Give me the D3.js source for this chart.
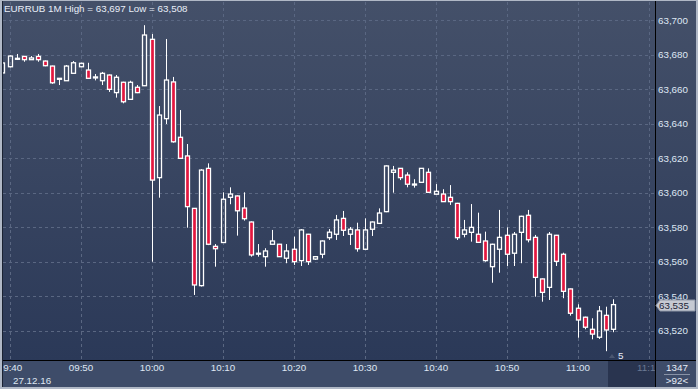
<!DOCTYPE html>
<html>
<head>
<meta charset="utf-8">
<script src="https://cdn.jsdelivr.net/npm/d3@7"></script>
<style>
  html, body { margin: 0; padding: 0; background: #b0b8c6; }
  svg { display: block; }
  text { font-family: "Liberation Sans", Arial, sans-serif; }
</style>
</head>
<body>
<svg id="chart"></svg>
<script>
// EURRUB 1 minute candles, 27.12.16
const times = ['09:39','09:40','09:41','09:42','09:43','09:44','09:45','09:46','09:47','09:48','09:49',
  '09:50','09:51','09:52','09:53','09:54','09:55','09:56','09:57','09:58','09:59',
  '10:00','10:01','10:02','10:03','10:04','10:05','10:06','10:07','10:08','10:09',
  '10:10','10:11','10:12','10:13','10:14','10:15','10:16','10:17','10:18','10:19',
  '10:20','10:21','10:22','10:23','10:24','10:25','10:26','10:27','10:28','10:29',
  '10:30','10:31','10:32','10:33','10:34','10:35','10:36','10:37','10:38','10:39',
  '10:40','10:41','10:42','10:43','10:44','10:45','10:46','10:47','10:48','10:49',
  '10:50','10:51','10:52','10:53','10:54','10:55','10:56','10:57','10:58','10:59',
  '11:00','11:01','11:02','11:03','11:04','11:05'];
const opens = [63.6693,63.6729,63.6776,63.6789,63.6770,63.6789,63.6762,63.6733,63.6660,63.6648,63.6691,
  63.6729,63.6710,63.6668,63.6648,63.6681,63.6579,63.6639,63.6540,63.6610,63.6619,
  63.6888,63.6086,63.6428,63.6641,63.6320,63.6212,63.5908,63.5460,63.6140,63.5688,
  63.5710,63.5972,63.5980,63.5910,63.5829,63.5645,63.5628,63.5700,63.5700,63.5619,
  63.5671,63.5605,63.5758,63.5614,63.5642,63.5738,63.5758,63.5850,63.5758,63.5783,
  63.5671,63.5787,63.5821,63.5889,63.6117,63.6140,63.6101,63.6046,63.6059,63.6117,
  63.5990,63.5991,63.5972,63.5937,63.5758,63.5769,63.5758,63.5719,63.5570,63.5671,
  63.5752,63.5648,63.5769,63.5868,63.5740,63.5499,63.5450,63.5752,63.5642,63.5441,
  63.5329,63.5277,63.5207,63.5161,63.5288,63.5207];
const highs = [63.6756,63.6795,63.6803,63.6791,63.6791,63.6803,63.6765,63.6735,63.6663,63.6739,63.6762,
  63.6752,63.6752,63.6687,63.6699,63.6684,63.6681,63.6642,63.6648,63.6623,63.6970,
  63.6919,63.6501,63.6890,63.6670,63.6478,63.6281,63.5910,63.6135,63.6169,63.5701,
  63.6001,63.6030,63.5983,63.6001,63.5832,63.5701,63.5677,63.5783,63.5702,63.5701,
  63.5744,63.5788,63.5760,63.5630,63.5722,63.5788,63.5870,63.5893,63.5800,63.5825,
  63.5850,63.5832,63.5908,63.6157,63.6154,63.6142,63.6117,63.6077,63.6142,63.6140,
  63.6049,63.6019,63.6043,63.5940,63.5841,63.5933,63.5883,63.5773,63.5703,63.5899,
  63.5798,63.5771,63.5865,63.5899,63.5754,63.5501,63.5771,63.5754,63.5651,63.5443,
  63.5352,63.5280,63.5271,63.5342,63.5338,63.5381];
const lows = [63.6688,63.6725,63.6768,63.6758,63.6770,63.6758,63.6732,63.6630,63.6623,63.6648,63.6690,
  63.6726,63.6660,63.6650,63.6623,63.6583,63.6550,63.6517,63.6537,63.6576,63.6617,
  63.5599,63.5970,63.6397,63.6289,63.6196,63.5796,63.5406,63.5455,63.5695,63.5570,
  63.5708,63.5932,63.5750,63.5837,63.5628,63.5628,63.5570,63.5698,63.5626,63.5590,
  63.5580,63.5574,63.5580,63.5609,63.5619,63.5725,63.5725,63.5748,63.5696,63.5657,
  63.5668,63.5748,63.5819,63.5886,63.5999,63.6072,63.6030,63.6028,63.6057,63.5999,
  63.5988,63.5945,63.5928,63.5725,63.5740,63.5715,63.5710,63.5599,63.5477,63.5535,
  63.5574,63.5574,63.5590,63.5711,63.5396,63.5367,63.5377,63.5574,63.5387,63.5286,
  63.5158,63.5207,63.5149,63.5151,63.5080,63.5190];
const closes = [63.6751,63.6791,63.6778,63.6770,63.6780,63.6770,63.6735,63.6636,63.6662,63.6733,63.6752,
  63.6749,63.6662,63.6670,63.6691,63.6598,63.6668,63.6526,63.6639,63.6579,63.6913,
  63.6072,63.6449,63.6652,63.6294,63.6198,63.5918,63.5464,63.6130,63.5700,63.5674,
  63.5961,63.5991,63.5894,63.5848,63.5638,63.5648,63.5661,63.5719,63.5628,63.5661,
  63.5599,63.5783,63.5599,63.5628,63.5719,63.5770,63.5841,63.5781,63.5787,63.5674,
  63.5783,63.5829,63.5881,63.6154,63.6130,63.6086,63.6048,63.6049,63.6140,63.6001,
  63.6007,63.5947,63.5947,63.5738,63.5783,63.5798,63.5711,63.5605,63.5700,63.5740,
  63.5642,63.5758,63.5862,63.5726,63.5508,63.5421,63.5758,63.5601,63.5427,63.5300,
  63.5261,63.5219,63.5179,63.5313,63.5203,63.5350];
const priceTicks = [63.52,63.54,63.56,63.58,63.60,63.62,63.64,63.66,63.68,63.70];
const titleText = 'EURRUB 1M High = 63,697 Low = 63,508';
const dateLabel = '27.12.16';
const lastPrice = 63.535;

const W = 698, H = 389;
const pLeft = 3, pRight = 655, pTop = 2, pBottom = 360;
const fs = '9.8px';

const parse = d3.timeParse('%H:%M');
const candles = times.map((t, i) => ({t: parse(t), o: opens[i], h: highs[i], l: lows[i], c: closes[i]}));

const x = d3.scaleTime().domain([parse('09:40'), parse('11:00')]).range([9.5, 577.5]);
const y = d3.scaleLinear().domain([63.52, 63.70]).range([330.5, 20]);
const fmt = d => d3.format('.3f')(d).replace('.', ',');

const svg = d3.select('#chart').attr('width', W).attr('height', H);
const defs = svg.append('defs');
const grad = defs.append('linearGradient').attr('id', 'bg').attr('x1', 0).attr('y1', 0).attr('x2', 0).attr('y2', 1);
grad.append('stop').attr('offset', '0%').attr('stop-color', '#445069');
grad.append('stop').attr('offset', '100%').attr('stop-color', '#2b3958');
defs.append('clipPath').attr('id', 'plotclip')
  .append('rect').attr('x', pLeft).attr('y', pTop).attr('width', pRight - pLeft).attr('height', pBottom - pTop);

// frame + panels
svg.append('rect').attr('x', 2).attr('y', 1).attr('width', W - 4).attr('height', pBottom - 1).attr('fill', 'url(#bg)');
svg.append('rect').attr('x', 2).attr('y', pBottom).attr('width', W - 4).attr('height', H - 2 - pBottom).attr('fill', '#3e4c69');
svg.append('rect').attr('x', 608).attr('y', pBottom + 1).attr('width', pRight - 608).attr('height', H - 3 - pBottom).attr('fill', '#29344f');

// grid
const ticksX = d3.timeMinute.every(10).range(parse('09:40'), parse('11:11'));
svg.append('g').selectAll('line').data(priceTicks).join('line')
  .attr('x1', pLeft).attr('x2', pRight)
  .attr('y1', d => Math.round(y(d)) + 0.5).attr('y2', d => Math.round(y(d)) + 0.5)
  .attr('stroke', '#5a6782').attr('stroke-dasharray', '3,3');
svg.append('g').selectAll('line').data(ticksX).join('line')
  .attr('x1', d => Math.round(x(d)) + 0.5).attr('x2', d => Math.round(x(d)) + 0.5)
  .attr('y1', pTop).attr('y2', pBottom)
  .attr('stroke', '#5a6782').attr('stroke-dasharray', '3,3');

// candles
const plot = svg.append('g').attr('clip-path', 'url(#plotclip)');
const bw = 4;
const cg = plot.selectAll('g.candle').data(candles).join('g').attr('class', 'candle');
cg.append('line')
  .attr('x1', d => Math.round(x(d.t)) + 0.5).attr('x2', d => Math.round(x(d.t)) + 0.5)
  .attr('y1', d => y(d.h)).attr('y2', d => y(Math.max(d.o, d.c)))
  .attr('stroke', '#fff');
cg.append('line')
  .attr('x1', d => Math.round(x(d.t)) + 0.5).attr('x2', d => Math.round(x(d.t)) + 0.5)
  .attr('y1', d => y(Math.min(d.o, d.c))).attr('y2', d => y(d.l))
  .attr('stroke', '#fff');
cg.append('rect')
  .attr('x', d => Math.round(x(d.t)) + 0.5 - bw / 2)
  .attr('width', bw)
  .attr('y', d => y(Math.max(d.o, d.c)))
  .attr('height', d => Math.max(1, Math.abs(y(d.o) - y(d.c))))
  .attr('fill', d => d.c < d.o ? '#e3173f' : 'none')
  .attr('stroke', '#fff').attr('stroke-width', 1.3);

// axes lines
svg.append('line').attr('x1', pRight + 0.5).attr('x2', pRight + 0.5).attr('y1', 1).attr('y2', H - 2).attr('stroke', '#000');
svg.append('line').attr('x1', 2).attr('x2', W - 2).attr('y1', pBottom + 0.5).attr('y2', pBottom + 0.5).attr('stroke', '#000');
svg.append('line').attr('x1', 2.5).attr('x2', 2.5).attr('y1', 1).attr('y2', H - 2).attr('stroke', '#1a2232');

// y axis
const yAxis = svg.append('g').attr('transform', `translate(${pRight + 2},0)`)
  .call(d3.axisRight(y).tickValues(priceTicks).tickFormat(fmt).tickSize(0).tickPadding(1));
yAxis.select('.domain').remove();
yAxis.selectAll('text').attr('fill', '#dfe7f3').style('font-size', fs).attr('dy', '0.35em');

// x axis
defs.append('clipPath').attr('id', 'xclip')
  .append('rect').attr('x', pLeft).attr('y', pBottom).attr('width', pRight - pLeft).attr('height', 30);
const xAxis = svg.append('g').attr('clip-path', 'url(#xclip)').append('g')
  .attr('transform', `translate(0,${pBottom})`)
  .call(d3.axisBottom(x).tickValues(ticksX).tickFormat(d3.timeFormat('%H:%M')).tickSize(0).tickPadding(4));
xAxis.select('.domain').remove();
xAxis.selectAll('text').attr('fill', (d, i) => i === ticksX.length - 1 ? '#6b7994' : '#dfe7f3')
  .style('font-size', fs);

svg.append('text').attr('x', 13).attr('y', 384).attr('fill', '#dfe7f3').style('font-size', fs).text(dateLabel);

// title
svg.append('text').attr('x', 4).attr('y', 12).attr('fill', '#e8eef8').style('font-size', fs).text(titleText);

// bar counter
svg.append('path').attr('d', 'M609,358 L612,354 L615,358 Z').attr('fill', '#4a5670');
svg.append('text').attr('x', 618).attr('y', 359).attr('fill', '#e8eef8').style('font-size', fs).text('5');

// corner info
svg.append('text').attr('x', 677).attr('y', 371).attr('text-anchor', 'middle').attr('fill', '#e8eef8').style('font-size', fs).text('1347');
svg.append('line').attr('x1', 664).attr('x2', 690).attr('y1', 374.5).attr('y2', 374.5).attr('stroke', '#8892a6');
svg.append('text').attr('x', 677).attr('y', 384).attr('text-anchor', 'middle').attr('fill', '#e8eef8').style('font-size', fs).text('>92<');

// last price tag
const py = Math.round(y(lastPrice)) + 0.5;
svg.append('path')
  .attr('d', `M${pRight + 1},${py} L${pRight + 5},${py - 5.5} L${W - 3},${py - 5.5} L${W - 3},${py + 5.5} L${pRight + 5},${py + 5.5} Z`)
  .attr('fill', '#c6cad3').attr('stroke', '#8e96a6');
svg.append('text').attr('x', pRight + 4).attr('y', py).attr('dy', '0.35em').attr('fill', '#1b2436').style('font-size', fs).text(fmt(lastPrice));
</script>
</body>
</html>
